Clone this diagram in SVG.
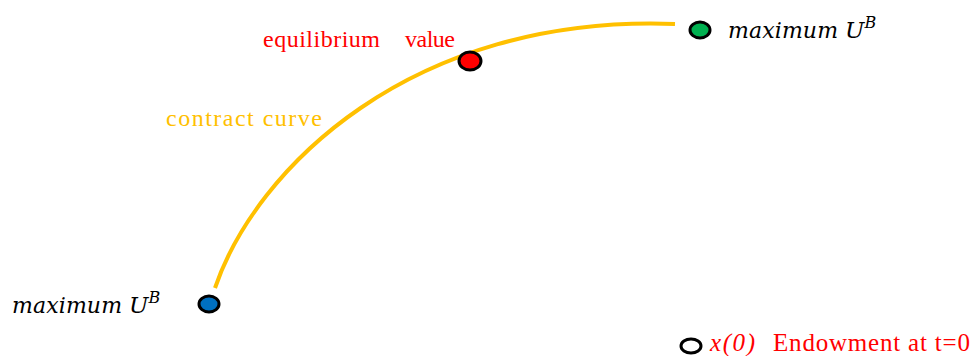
<svg xmlns="http://www.w3.org/2000/svg" width="973" height="356" viewBox="0 0 973 356">
<style>
.node{stroke:#000;stroke-width:3}
.curve{fill:none;stroke:#ffc000;stroke-width:4}
.lbl{font-family:"Liberation Serif",serif;font-size:24px}
.big{font-size:25px}
.red{fill:#ff0000}
.math{font-family:"DejaVu Serif",serif;font-style:italic;font-size:22px;fill:#000}
.mathU{font-family:"DejaVu Serif",serif;font-style:italic;font-size:23px;fill:#000}
.sup{font-size:16px}
</style>
<rect width="973" height="356" fill="#fff"/>
<g id="connectors">
<path class="curve" d="M215,288 C255,170 410,14 675,24"/>
</g>
<g id="label-curve"><text class="lbl" x="166" y="126" fill="#ffc000" textLength="156" lengthAdjust="spacing">contract curve</text></g>
<g id="node-equilibrium">
<ellipse class="node" cx="470" cy="61" rx="11" ry="9" fill="#ff0000"/>
<text class="lbl red" x="263" y="47" textLength="117" lengthAdjust="spacing">equilibrium</text>
<text class="lbl red" x="405" y="47" textLength="50" lengthAdjust="spacing">value</text>
</g>
<g id="node-maxB-top">
<ellipse class="node" cx="700" cy="30" rx="10" ry="8" fill="#00b050"/>
<text class="math" x="728" y="38" textLength="110" lengthAdjust="spacing">maximum</text>
<text class="mathU" x="845" y="38">U<tspan class="sup" dy="-10">B</tspan></text>
</g>
<g id="node-maxB-bottom">
<ellipse class="node" cx="209" cy="304" rx="10" ry="8" fill="#0070c0"/>
<text class="math" x="12" y="313" textLength="110" lengthAdjust="spacing">maximum</text>
<text class="mathU" x="129" y="313">U<tspan class="sup" dy="-10">B</tspan></text>
</g>
<g id="node-endowment">
<ellipse class="node" cx="691" cy="346" rx="10" ry="7" fill="#fff"/>
<text class="lbl big red" x="710" y="351" font-style="italic" textLength="45" lengthAdjust="spacing">x(0)</text>
<text class="lbl big red" x="773" y="351" textLength="197" lengthAdjust="spacing">Endowment at t=0</text>
</g>
</svg>
